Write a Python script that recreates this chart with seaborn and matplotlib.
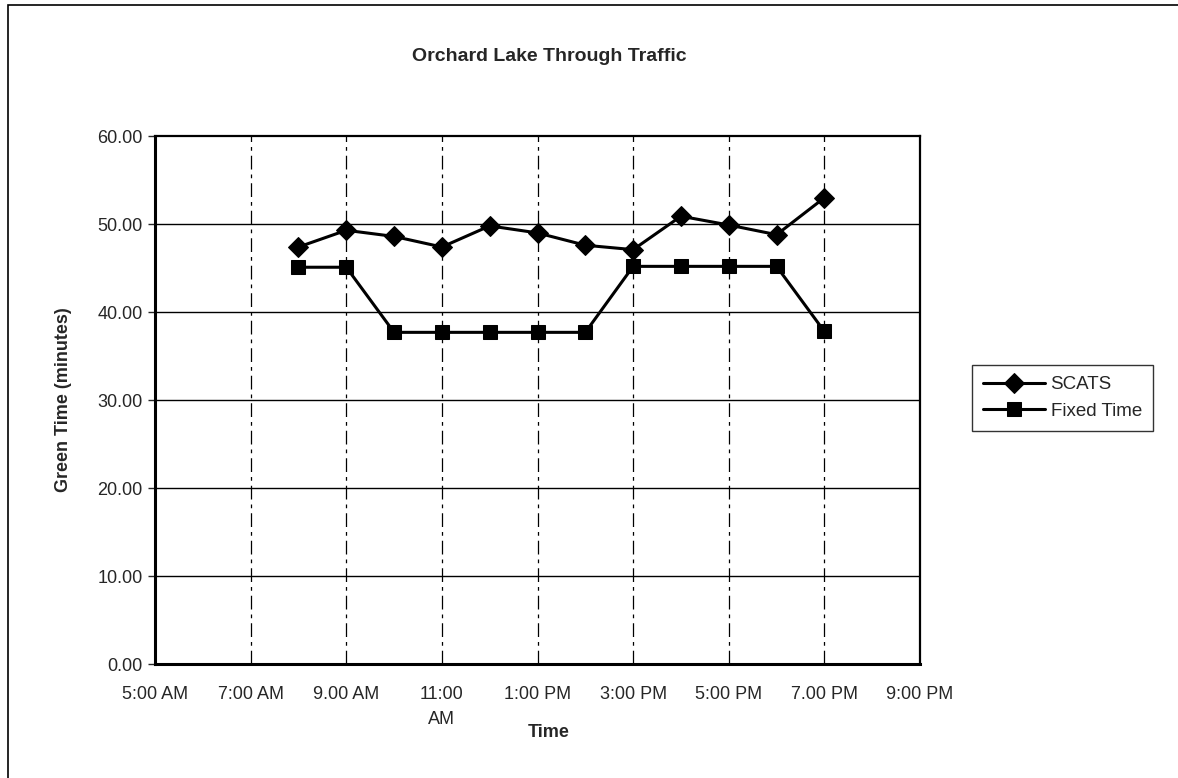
import numpy as np
import pandas as pd
import matplotlib
matplotlib.use("Agg")
import matplotlib.pyplot as plt
import seaborn as sns
from matplotlib.patches import Rectangle

# data
hours = [8, 9, 10, 11, 12, 13, 14, 15, 16, 17, 18, 19]
scats = [47.4, 49.3, 48.6, 47.4, 49.8, 49.0, 47.6, 47.1, 50.9, 49.9, 48.8, 53.0]
fixed_time = [45.1, 45.1, 37.7, 37.7, 37.7, 37.7, 37.7, 45.2, 45.2, 45.2, 45.2, 37.8]
series_names = ["SCATS", "Fixed Time"]
tick_hours = [5, 7, 9, 11, 13, 15, 17, 19, 21]
tick_labels = ["5:00 AM", "7:00 AM", "9.00 AM", "11:00\nAM", "1:00 PM",
               "3:00 PM", "5:00 PM", "7.00 PM", "9:00 PM"]
y_ticks = [0, 10, 20, 30, 40, 50, 60]

df = pd.DataFrame({
    "hour": hours * 2,
    "value": scats + fixed_time,
    "series": [series_names[0]] * len(hours) + [series_names[1]] * len(hours),
})

sns.set_style("white")
plt.rcParams["font.family"] = ["Liberation Sans", "DejaVu Sans"]

fig = plt.figure(figsize=(11.78, 7.78), dpi=100)
ax = fig.add_axes([0.1316, 0.1465, 0.6494, 0.6785])

sns.lineplot(
    data=df, x="hour", y="value", hue="series", style="series",
    palette={"SCATS": "black", "Fixed Time": "black"},
    markers={"SCATS": "D", "Fixed Time": "s"},
    dashes=False, linewidth=2.2, markersize=10, markeredgecolor="black",
    ax=ax,
)

ax.set_xlim(5, 21)
ax.set_ylim(0, 60)
ax.set_xticks(tick_hours)
ax.set_xticklabels(tick_labels, fontsize=13, linespacing=1.6)
ax.set_yticks(y_ticks)
ax.set_yticklabels([f"{v:.2f}" for v in y_ticks], fontsize=13)
ax.tick_params(axis="y", length=5, width=1, direction="out", left=True, pad=4)
ax.tick_params(axis="x", length=0, pad=16)

for v in y_ticks[1:-1]:
    ax.axhline(v, color="black", lw=1.0, zorder=0)
for h in tick_hours[1:-1]:
    ax.axvline(h, color="black", lw=0.9, ls=(0, (11, 4, 3, 4)), zorder=0)

for side in ["left", "bottom"]:
    ax.spines[side].set_linewidth(2.2)
for side in ["top", "right"]:
    ax.spines[side].set_linewidth(1.6)
for s in ax.spines.values():
    s.set_color("black")

ax.set_xlabel("Time", fontsize=13, fontweight="bold", labelpad=-3, x=0.514)
ax.set_ylabel("Green Time (minutes)", fontsize=13, fontweight="bold", labelpad=18)
fig.text(0.466, 0.927, "Orchard Lake Through Traffic", fontsize=14,
         fontweight="bold", ha="center", va="center")

leg = ax.legend(
    loc="upper left", bbox_to_anchor=(0.825, 0.531),
    bbox_transform=fig.transFigure, frameon=True, fancybox=False,
    edgecolor="black", fontsize=13.5, handlelength=3.3, borderpad=0.6,
    labelspacing=0.5, handletextpad=0.3, borderaxespad=0,
)
leg.get_frame().set_linewidth(1.0)

# outer chart-area border
fig.patches.append(Rectangle((8 / 1178, -0.05), 1.2, 1 - 5 / 778 + 0.05,
                             transform=fig.transFigure, fill=False,
                             edgecolor="black", lw=1.2))

fig.savefig("out.png", dpi=100)
plt.close(fig)
